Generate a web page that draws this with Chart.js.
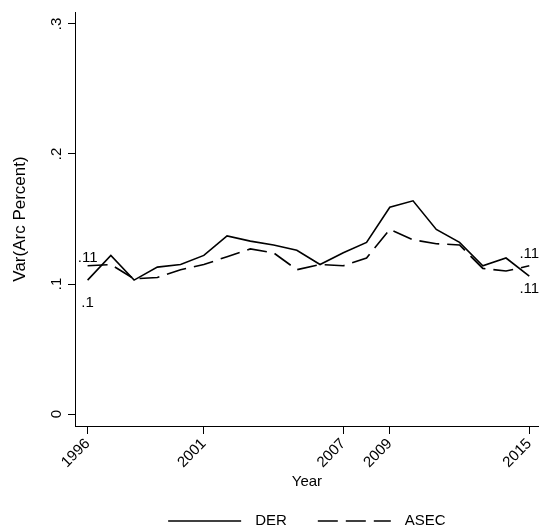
<!DOCTYPE html>
<html>
<head>
<meta charset="utf-8">
<script src="https://cdn.jsdelivr.net/npm/chart.js@4.4.0/dist/chart.umd.min.js"></script>
<style>
  html, body { margin: 0; padding: 0; background: #fff; }
  #wrap { width: 543px; height: 529px; }
</style>
</head>
<body>
<div id="wrap"><canvas id="chartVar"></canvas></div>
<script>
// yearly variance of arc percent, two sources
const years = [1996, 1997, 1998, 1999, 2000, 2001, 2002, 2003, 2004, 2005,
               2006, 2007, 2008, 2009, 2010, 2011, 2012, 2013, 2014, 2015];
const der  = [0.103, 0.122, 0.103, 0.113, 0.115, 0.122, 0.137, 0.133, 0.130, 0.126,
              0.115, 0.124, 0.132, 0.159, 0.164, 0.142, 0.132, 0.114, 0.120, 0.106];
const asec = [0.114, 0.115, 0.104, 0.105, 0.111, 0.115, 0.121, 0.127, 0.124, 0.111,
              0.115, 0.114, 0.120, 0.142, 0.134, 0.131, 0.130, 0.112, 0.110, 0.114];
const yearTicks = [1996, 2001, 2007, 2009, 2015];
const varTicks = [0, 0.1, 0.2, 0.3];

const FONT = "'Liberation Sans', Arial, Helvetica, sans-serif";

// .11 style: two decimals, trailing and leading zeros dropped
function fmt(v) {
  let s = v.toFixed(2).replace(/0+$/, '').replace(/\.$/, '');
  if (s === '0') return '0';
  return s.replace(/^0/, '');
}

// y tick labels are drawn rotated (reading upward)
const yLabels = {
  id: 'yLabels',
  afterDraw(chart) {
    const ctx = chart.ctx, y = chart.scales.y;
    ctx.save();
    ctx.fillStyle = '#000';
    ctx.font = '15px ' + FONT;
    ctx.textAlign = 'center';
    ctx.textBaseline = 'alphabetic';
    varTicks.forEach(v => {
      ctx.save();
      ctx.translate(61, y.getPixelForValue(v));
      ctx.rotate(-Math.PI / 2);
      ctx.fillText(fmt(v), 0, 0);
      ctx.restore();
    });
    ctx.restore();
  }
};

// first/last value labels, higher series above, lower below
const endLabels = {
  id: 'endLabels',
  afterDatasetsDraw(chart) {
    const ctx = chart.ctx, xs = chart.scales.x, ys = chart.scales.y;
    const sets = chart.data.datasets;
    const offs = [{ up: -8, down: 23 }, { up: -12, down: 13 }];
    ctx.save();
    ctx.fillStyle = '#000';
    ctx.font = '15px ' + FONT;
    ctx.textAlign = 'center';
    ctx.textBaseline = 'middle';
    [0, years.length - 1].forEach((i, k) => {
      const top = Math.max(...sets.map(d => d.data[i].y));
      sets.forEach(d => {
        const p = d.data[i];
        const off = p.y === top ? offs[k].up : offs[k].down;
        ctx.fillText(fmt(p.y), xs.getPixelForValue(p.x), ys.getPixelForValue(p.y) + off);
      });
    });
    ctx.restore();
  }
};

// legend under the axis title: line sample then name, centered on the plot
const lineLegend = {
  id: 'lineLegend',
  afterDraw(chart) {
    const ctx = chart.ctx, area = chart.chartArea;
    const sets = chart.data.datasets;
    const lineLen = 73, textGap = 14, itemGap = 31, yMid = 521;
    ctx.save();
    ctx.font = '15px ' + FONT;
    const widths = sets.map(d => ctx.measureText(d.label).width);
    const total = widths.reduce((s, w) => s + lineLen + textGap + w, 0) + itemGap * (sets.length - 1);
    let x = (area.left + area.right) / 2 - total / 2;
    sets.forEach((d, i) => {
      ctx.strokeStyle = d.borderColor;
      ctx.lineWidth = d.borderWidth;
      ctx.setLineDash(d.borderDash || []);
      ctx.beginPath();
      ctx.moveTo(x, yMid);
      ctx.lineTo(x + lineLen, yMid);
      ctx.stroke();
      ctx.setLineDash([]);
      x += lineLen + textGap;
      ctx.fillStyle = '#000';
      ctx.textAlign = 'left';
      ctx.textBaseline = 'middle';
      ctx.fillText(d.label, x, yMid);
      x += widths[i] + itemGap;
    });
    ctx.restore();
  }
};

new Chart(document.getElementById('chartVar'), {
  type: 'line',
  data: {
    datasets: [
      {
        label: 'DER',
        data: years.map((yr, i) => ({ x: yr, y: der[i] })),
        borderColor: '#000',
        borderWidth: 1.6,
        pointRadius: 0,
        tension: 0
      },
      {
        label: 'ASEC',
        data: years.map((yr, i) => ({ x: yr, y: asec[i] })),
        borderColor: '#000',
        borderWidth: 1.6,
        borderDash: [20, 8],
        pointRadius: 0,
        tension: 0
      }
    ]
  },
  options: {
    responsive: true,
    maintainAspectRatio: false,
    animation: false,
    layout: { padding: { top: 12, right: 0, left: 0, bottom: 33 } },
    plugins: {
      tooltip: { enabled: false },
      legend: { display: false }
    },
    scales: {
      x: {
        type: 'linear',
        min: 1995.458,
        max: 2015.41,
        afterBuildTicks: s => { s.ticks = yearTicks.map(v => ({ value: v })); },
        afterFit: s => { s.height = 70; },
        ticks: {
          minRotation: 45,
          maxRotation: 45,
          padding: 1,
          color: '#000',
          font: { family: FONT, size: 15 },
          callback: v => String(v)
        },
        grid: { drawOnChartArea: false, drawTicks: true, tickLength: 8, color: '#000' },
        border: { display: true, color: '#000', width: 1 },
        title: {
          display: true,
          text: 'Year',
          color: '#000',
          font: { family: FONT, size: 15 },
          padding: { top: 0, bottom: 5 }
        }
      },
      y: {
        min: -0.0092,
        max: 0.3092,
        afterBuildTicks: s => { s.ticks = varTicks.map(v => ({ value: v })); },
        afterFit: s => { s.width = 75; },
        ticks: { display: false },
        grid: { drawOnChartArea: false, drawTicks: true, tickLength: 7, color: '#000' },
        border: { display: true, color: '#000', width: 1 },
        title: {
          display: true,
          text: 'Var(Arc Percent)',
          color: '#000',
          font: { family: FONT, size: 17 },
          padding: { top: 10, bottom: 0 }
        }
      }
    }
  },
  plugins: [yLabels, endLabels, lineLegend]
});
</script>
</body>
</html>
